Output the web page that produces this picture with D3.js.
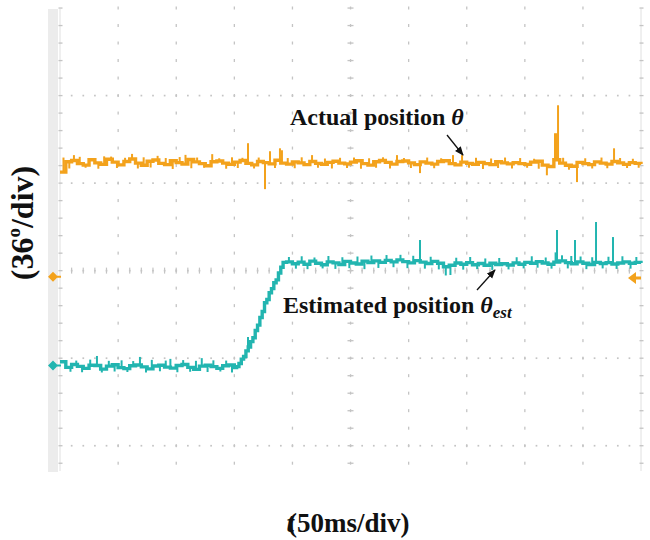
<!DOCTYPE html>
<html>
<head>
<meta charset="utf-8">
<script src="https://cdn.jsdelivr.net/npm/d3@7"></script>
<style>
  body { margin: 0; background: #fff; }
  svg { display: block; }
  .lbl { font-family: "Liberation Serif", "Times New Roman", serif; font-weight: bold; fill: #111; }
</style>
</head>
<body>
<svg id="chart" width="650" height="540"></svg>
<script>
// scope screen: 10 divs of 50 ms across, 36 deg per vertical div
const xDivs = [0, 50, 100, 150, 200, 250, 300, 350, 400, 450, 500];
const yDivs = [-72, -36, 0, 36, 72];

// samples every 5 ms (t = 0 ... 500)
const sampleTimes = d3.range(0, 501, 5);

// actual position (deg)
const actualPos = [
  40.5, 44.8, 45.3, 44.0, 43.4, 45.6, 44.3, 43.7, 45.8, 44.6,
  43.5, 44.9, 45.9, 44.2, 43.3, 45.0, 45.5, 44.1, 43.6, 45.2,
  44.4, 43.8, 45.7, 44.7, 44.0, 43.1, 44.8, 45.1, 44.2, 43.7,
  44.6, 45.3, 44.1, 43.5, 44.9, 44.4, 43.9, 45.4, 44.2, 43.8,
  44.7, 44.3, 43.6, 44.9, 44.1, 43.7, 44.5, 45.0, 44.2, 43.9,
  44.6, 45.2, 44.0, 43.4, 44.8, 45.3, 44.5, 43.8, 44.9, 45.1,
  44.3, 43.6, 44.7, 44.2, 43.8, 44.9, 45.2, 44.0, 43.5, 44.6,
  44.1, 43.7, 44.5, 44.0, 43.6, 44.8, 44.3, 43.9, 44.4, 44.0,
  43.7, 44.6, 45.0, 43.4, 42.8, 45.6, 44.2, 43.3, 42.9, 44.5,
  44.0, 43.6, 44.7, 44.2, 43.8, 44.9, 44.3, 43.7, 44.4, 44.1,
  43.8
];
// narrow glitches on the actual trace: [t ms, deg]
const actualSpikes = [
  [12, 47.5], [38, 47.0], [62, 48.0], [84, 47.2], [108, 47.6], [131, 47.9],
  [161.8, 52.4], [176.4, 33.5], [180.7, 49.1], [189.3, 50.3], [191, 49.5],
  [216.9, 47.5], [290, 47.5], [309.8, 40.1], [338.2, 47.5], [346, 47.5],
  [419, 39.2], [426, 56.5], [427.5, 56.5], [428.6, 68.0], [444.9, 36.4], [476.8, 50.3]
];
// small blips that make the trace look fuzzy
const actualJitter = [
  [3, 46.5], [8, 42.0], [17, 46.8], [22, 42.3], [27, 46.2], [33, 41.9], [44, 46.9], [49, 42.2],
  [56, 46.4], [67, 42.0], [72, 46.6], [78, 42.4], [91, 46.3], [97, 41.8], [103, 46.7], [113, 42.1],
  [118, 46.5], [124, 42.3], [137, 46.2], [143, 41.9], [148, 46.6], [153, 42.2], [157, 46.4], [167, 42.0],
  [171, 46.5], [185, 42.2], [196, 46.3], [202, 42.1], [208, 46.6], [222, 42.3], [228, 46.1], [234, 42.0],
  [241, 46.4], [247, 42.2], [253, 46.5], [259, 41.9], [266, 46.2], [272, 42.3], [278, 46.6], [284, 42.0],
  [296, 46.3], [302, 42.2], [316, 46.5], [322, 42.1], [328, 46.2], [352, 42.3], [358, 46.4], [364, 41.8],
  [371, 46.1], [377, 42.2], [383, 46.5], [389, 42.0], [396, 46.3], [402, 42.3], [408, 46.0], [412, 41.9],
  [433, 46.4], [438, 41.5], [452, 46.2], [458, 42.0], [466, 46.5], [471, 42.1], [482, 46.3], [488, 42.2],
  [493, 46.0], [498, 42.3]
];

// estimated position (deg)
const estPos = [
  -37.5, -39.8, -38.6, -39.4, -40.2, -38.9, -39.0, -40.5, -39.3, -38.7,
  -39.9, -40.3, -39.1, -38.8, -39.6, -40.4, -39.2, -38.9, -39.7, -40.1,
  -39.0, -38.6, -39.8, -40.6, -39.3, -38.9, -39.5, -40.2, -39.1, -38.8,
  -39.9, -37.0, -31.5, -27.0, -21.5, -15.0, -9.5, -4.8, 0.5, 3.6,
  2.8, 3.5, 2.6, 3.9, 3.0, 2.4, 3.6, 3.2, 2.5, 3.8,
  3.1, 2.7, 3.9, 3.3, 4.0, 3.4, 4.2, 3.6, 4.4, 3.7,
  3.2, 4.1, 3.5, 2.9, 3.8, 3.0, 1.6, 2.2, 3.1, 2.6,
  3.3, 2.4, 2.9, 2.2, 3.0, 2.5, 2.8, 2.3, 3.2, 2.6,
  3.4, 3.0, 3.7, 3.1, 2.6, 3.5, 4.0, 3.3, 2.8, 3.6,
  3.0, 2.5, 3.4, 2.9, 3.3, 2.7, 3.1, 3.6, 3.0, 3.4,
  3.1
];
// finer samples through the step (152 ... 192 ms)
const estRamp = [
  [152, -39.5], [154, -38.2], [156, -36.4], [158, -35.3], [160, -33.0], [162, -31.4],
  [164, -29.2], [166, -27.6], [168, -24.6], [170, -22.4], [172, -19.3], [174, -16.8],
  [176, -13.2], [178, -11.9], [180, -9.1], [182, -7.4], [184, -5.0], [186, -3.8],
  [188, -1.0], [190, 1.4], [192, 3.4]
];
const estSpikes = [
  [31.8, -35.1], [68.8, -35.5], [95, -36.3], [122, -36.0], [161.8, -27.3],
  [309.8, 12.6], [332, -2.0], [336, -1.8], [426.5, 7.5], [427.7, 16.7],
  [440, 6.0], [443.2, 12.6], [461.3, 20.0], [475.9, 13.8]
];
const estJitter = [
  [4, -36.8], [9, -41.6], [14, -37.0], [19, -41.8], [26, -36.6], [36, -41.9], [42, -37.1], [47, -41.5],
  [53, -36.9], [58, -41.7], [63, -37.2], [74, -41.9], [79, -36.7], [86, -41.4], [91, -37.0], [101, -41.8],
  [106, -36.8], [112, -41.6], [117, -37.1], [127, -41.7], [132, -36.9], [138, -41.5], [143, -37.0], [148, -41.9],
  [197, 5.6], [203, 0.8], [208, 5.9], [213, 0.6], [219, 5.4], [226, 0.9], [231, 6.0], [237, 0.7],
  [243, 5.5], [249, 1.0], [256, 5.8], [262, 0.6], [268, 6.2], [274, 1.1], [281, 6.4], [287, 1.4],
  [293, 6.5], [299, 1.0], [304, 6.1], [314, 0.8], [319, 5.7], [326, 0.5], [341, 5.3], [347, 0.4],
  [353, 5.6], [359, 0.6], [366, 5.0], [372, 0.3], [378, 5.2], [386, 0.5], [393, 5.5], [399, 0.9],
  [406, 5.9], [411, 1.2], [418, 5.4], [423, 0.8], [432, 6.3], [437, 0.9], [448, 5.8], [453, 0.6],
  [458, 5.5], [467, 0.9], [472, 5.7], [479, 0.7], [484, 5.9], [491, 0.8], [496, 5.6]
];

// channel level markers on the screen edge
const markers = [
  { side: "left", v: -2.5, color: "#f3a21c" },
  { side: "left", v: -39, color: "#22b5b0" },
  { side: "right", v: -3, color: "#f3a21c" }
];

const orange = "#f3a21c";
const teal = "#22b5b0";

const svg = d3.select("#chart");
const x = d3.scaleLinear().domain([0, 500]).range([60, 641]);
const y = d3.scaleLinear().domain([-82, 108]).range([470, 8]);

// gray strip on the left of the screen
svg.append("rect").attr("x", 48).attr("y", 9).attr("width", 10).attr("height", 463).attr("fill", "#ececec");

// grid
const grid = svg.append("g");
const minorY = d3.range(-11, 16).map(k => k * 7.2).filter(v => v >= -82 && v <= 108);
const minorX = d3.range(0, 501, 10);

// borders
[0, 500].forEach(t => {
  grid.append("line").attr("x1", x(t)).attr("x2", x(t)).attr("y1", 9).attr("y2", 471)
    .attr("stroke", "#e0e0e0").attr("stroke-width", 1);
  grid.selectAll(null).data(minorY).enter().append("rect")
    .attr("x", x(t) - 1.5).attr("y", d => y(d) - 0.6).attr("width", 4).attr("height", 1.3)
    .attr("fill", "#c4c4c4");
});

xDivs.slice(1, -1).forEach(t => {
  grid.selectAll(null).data(minorY).enter().append("rect")
    .attr("x", x(t) - 0.6).attr("y", d => y(d) - 1.5).attr("width", 1.3).attr("height", 3)
    .attr("fill", "#c4c4c4");
});
yDivs.forEach(v => {
  grid.selectAll(null).data(minorX.slice(1, -1)).enter().append("rect")
    .attr("x", d => x(d) - 0.8).attr("y", y(v) - 0.8).attr("width", 1.7).attr("height", 1.7)
    .attr("fill", "#c4c4c4");
});
// centre axes carry extra tick marks
grid.selectAll(null).data(minorX.slice(1, -1)).enter().append("rect")
  .attr("x", d => x(d) - 0.6).attr("y", y(0) - 3).attr("width", 1.2).attr("height", 6)
  .attr("fill", "#c4c4c4");
grid.selectAll(null).data(minorY).enter().append("rect")
  .attr("x", x(250) - 3).attr("y", d => y(d) - 0.6).attr("width", 6).attr("height", 1.3)
  .attr("fill", "#c4c4c4");

// traces
const line = d3.line().x(d => x(d.t)).y(d => y(d.v)).curve(d3.curveStepAfter);

function drawTrace(vals, extra, spikes, color) {
  let pts = sampleTimes.map((t, i) => ({ t: t, v: vals[i] }));
  if (extra.length) {
    const t0 = extra[0][0], t1 = extra[extra.length - 1][0];
    pts = pts.filter(p => p.t < t0 || p.t > t1)
      .concat(extra.map(d => ({ t: d[0], v: d[1] })));
    pts.sort((a, b) => a.t - b.t);
  }
  const bis = d3.bisector(p => p.t).right;
  const baseAt = t => pts[Math.max(0, bis(pts, t) - 1)].v;
  const g = svg.append("g");
  g.append("path").datum(pts).attr("d", line)
    .attr("fill", "none").attr("stroke", color).attr("stroke-width", 3.4);
  g.selectAll(null).data(spikes).enter().append("line")
    .attr("x1", d => x(d[0])).attr("x2", d => x(d[0]))
    .attr("y1", d => y(baseAt(d[0]))).attr("y2", d => y(d[1]))
    .attr("stroke", color).attr("stroke-width", 2);
}
drawTrace(estPos, estRamp, estJitter.concat(estSpikes), teal);
drawTrace(actualPos, [], actualJitter.concat(actualSpikes), orange);

// level markers
markers.forEach(m => {
  const cy = y(m.v);
  if (m.side === "left") {
    svg.append("path")
      .attr("d", `M48,${cy} L53,${cy - 5} L58,${cy} L53,${cy + 5} Z M52,${cy - 1} h9 v2 h-9 Z`)
      .attr("fill", m.color);
  } else {
    svg.append("path")
      .attr("d", `M628,${cy} L636,${cy - 6} L636,${cy + 6} Z M634,${cy - 1.5} h7 v3 h-7 Z`)
      .attr("fill", m.color);
  }
});

// annotation arrows
svg.append("defs").append("marker")
  .attr("id", "ah").attr("viewBox", "0 0 10 10").attr("refX", 9).attr("refY", 5)
  .attr("markerWidth", 7).attr("markerHeight", 7).attr("orient", "auto")
  .append("path").attr("d", "M0,1 L10,5 L0,9 Z").attr("fill", "#111");

svg.append("line").attr("x1", 447).attr("y1", 135).attr("x2", 463).attr("y2", 155)
  .attr("stroke", "#111").attr("stroke-width", 1.3).attr("marker-end", "url(#ah)");
svg.append("line").attr("x1", 477).attr("y1", 290).attr("x2", 495).attr("y2", 270)
  .attr("stroke", "#111").attr("stroke-width", 1.3).attr("marker-end", "url(#ah)");

// labels
const t1 = svg.append("text").attr("class", "lbl").attr("x", 290).attr("y", 125).attr("font-size", 24);
t1.append("tspan").text("Actual position ");
t1.append("tspan").attr("font-style", "italic").text("θ");

const t2 = svg.append("text").attr("class", "lbl").attr("x", 283).attr("y", 313).attr("font-size", 24);
t2.append("tspan").text("Estimated position ");
t2.append("tspan").attr("font-style", "italic").text("θ");
t2.append("tspan").attr("font-style", "italic").attr("font-size", 17).attr("dy", 5).text("est");

const yl = svg.append("text").attr("class", "lbl").attr("text-anchor", "middle")
  .attr("transform", "translate(33,223) rotate(-90)").attr("font-size", 32);
yl.append("tspan").text("(36");
yl.append("tspan").attr("font-size", 19).attr("dy", -13).text("o");
yl.append("tspan").attr("dy", 13).text("/div)");

const xl = svg.append("text").attr("class", "lbl").attr("text-anchor", "middle")
  .attr("x", 348).attr("y", 532).attr("font-size", 27);
xl.append("tspan").attr("font-style", "italic").text("t");
xl.append("tspan").attr("dx", -6).text("(50ms/div)");
</script>
</body>
</html>
